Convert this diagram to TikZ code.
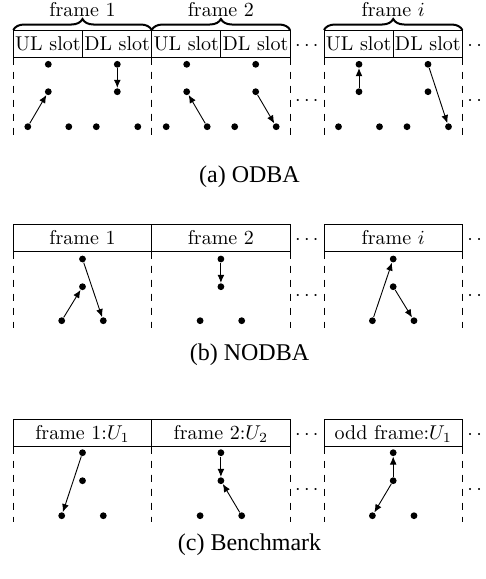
\documentclass[tikz,border=0pt]{standalone}
\usepackage{fontspec}
\newfontfamily\capfont{Liberation Serif}
\usetikzlibrary{decorations.pathreplacing,arrows.meta}
\begin{document}
\begin{tikzpicture}[x=0.5pt,y=-0.5pt,
  slot/.style={draw,line width=0.45pt,minimum width=34.6pt,minimum height=13.85pt,inner sep=0pt,outer sep=0pt,text height=6.94pt,text depth=0pt},
  fbox/.style={slot,minimum width=69.2pt},
  dot/.style={circle,fill,inner sep=0pt,minimum size=3.4pt},
  arr/.style={-{Latex[length=4pt,width=3.4pt]},line width=0.45pt},
  dline/.style={dash pattern=on 3.6pt off 3.4pt,line width=0.45pt},
  brc/.style={decorate,decoration={brace,amplitude=5.5pt},line width=1pt},
  dts/.style={anchor=base,inner sep=0pt},
  captext/.style={font=\capfont\fontsize{12}{14}\selectfont,anchor=base,inner sep=0pt}]
\useasboundingbox (0,0) rectangle (486,579);

% ---------------- (a) ODBA ----------------
\foreach \k/\F in {1/13.3,2/151.7,i/324}{
  \node[slot] (a\k-u) at (\F+34.6,43.85) {UL slot};
  \node[slot] (a\k-d) at (\F+103.8,43.85) {DL slot};
  \draw[brc] (a\k-u.north west) -- (a\k-d.north east);
  \node[anchor=base,inner sep=0pt] (a\k-t) at (\F+69.2,16) {frame $\k$};
  \draw[dline] (a\k-u.south west) -- (a\k-u.south west |- 0,135);
  \draw[dline] (a\k-d.south east) -- (a\k-d.south east |- 0,135);
  \node[dot] (a\k-1u) at (\F+35,64.3) {};
  \node[dot] (a\k-1d) at (\F+104,64.3) {};
  \node[dot] (a\k-2u) at (\F+35,91.7) {};
  \node[dot] (a\k-2d) at (\F+104,91.7) {};
  \node[dot] (a\k-3a) at (\F+14.5,126.7) {};
  \node[dot] (a\k-3b) at (\F+55.5,126.7) {};
  \node[dot] (a\k-3c) at (\F+83,126.7) {};
  \node[dot] (a\k-3d) at (\F+124.5,126.7) {};
}
\draw[arr] (a1-3a) -- (a1-2u);
\draw[arr] (a1-1d) -- (a1-2d);
\draw[arr] (a2-3b) -- (a2-2u);
\draw[arr] (a2-2d) -- (a2-3d);
\draw[arr] (ai-2u) -- (ai-1u);
\draw[arr] (ai-1d) -- (ai-3d);
\node[dts] (ah1) at (306.85,50.85) {$\cdots$};
\node[dts] (ah2) at (479.15,50.85) {$\cdots$};
\node[dts] (ab1) at (306.85,105) {$\cdots$};
\node[dts] (ab2) at (479.15,105) {$\cdots$};
\node[captext] (capa) at (249.5,182) {(a) ODBA};

% ---------------- (b) NODBA ----------------
\foreach \k/\F in {1/13.3,2/151.7,i/324}{
  \node[fbox] (b\k-h) at (\F+69.2,237.85) {frame $\k$};
  \draw[dline] (b\k-h.south west) -- (b\k-h.south west |- 0,328);
  \draw[dline] (b\k-h.south east) -- (b\k-h.south east |- 0,328);
  \node[dot] (b\k-1) at (\F+69.2,259) {};
  \node[dot] (b\k-2) at (\F+69.2,286.7) {};
  \node[dot] (b\k-3a) at (\F+48.4,320.7) {};
  \node[dot] (b\k-3b) at (\F+90,320.7) {};
}
\draw[arr] (b1-3a) -- (b1-2);
\draw[arr] (b1-1) -- (b1-3b);
\draw[arr] (b2-1) -- (b2-2);
\draw[arr] (bi-3a) -- (bi-1);
\draw[arr] (bi-2) -- (bi-3b);
\node[dts] (bh1) at (306.85,244.85) {$\cdots$};
\node[dts] (bh2) at (479.15,244.85) {$\cdots$};
\node[dts] (bb1) at (306.85,300) {$\cdots$};
\node[dts] (bb2) at (479.15,300) {$\cdots$};
\node[captext] (capb) at (249.5,360) {(b) NODBA};

% ---------------- (c) Benchmark ----------------
\foreach \k/\F/\t in {1/13.3/{frame 1:$U_1$},2/151.7/{frame 2:$U_2$},i/324/{odd frame:$U_1$}}{
  \node[fbox] (c\k-h) at (\F+69.2,432.85) {\t};
  \draw[dline] (c\k-h.south west) -- (c\k-h.south west |- 0,521.7);
  \draw[dline] (c\k-h.south east) -- (c\k-h.south east |- 0,521.7);
  \node[dot] (c\k-1) at (\F+69.2,452.7) {};
  \node[dot] (c\k-2) at (\F+69.2,480.7) {};
  \node[dot] (c\k-3a) at (\F+48.4,515.7) {};
  \node[dot] (c\k-3b) at (\F+90,515.7) {};
}
\draw[arr] (c1-1) -- (c1-3a);
\draw[arr] (c2-1) -- (c2-2);
\draw[arr] (c2-3b) -- (c2-2);
\draw[arr] (ci-2) -- (ci-1);
\draw[arr] (ci-2) -- (ci-3a);
\node[dts] (ch1) at (306.85,439.85) {$\cdots$};
\node[dts] (ch2) at (479.15,439.85) {$\cdots$};
\node[dts] (cb1) at (306.85,494) {$\cdots$};
\node[dts] (cb2) at (479.15,494) {$\cdots$};
\node[captext] (capc) at (249.5,550) {(c) Benchmark};
\end{tikzpicture}
\end{document}
